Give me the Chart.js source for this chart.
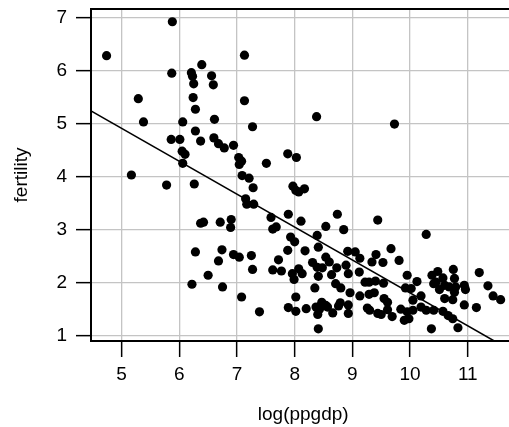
<!DOCTYPE html>
<html>
<head>
<meta charset="utf-8">
<script src="https://cdn.jsdelivr.net/npm/chart.js@4.4.1/dist/chart.umd.min.js"></script>
<style>
  html, body { margin: 0; background: #fff; overflow: hidden; }
  canvas { display: block; }
</style>
</head>
<body>
<canvas id="unChart" width="520" height="427"></canvas>
<script>
// log(ppgdp) and fertility
const logGdp = [
  4.74, 5.88, 5.87, 6.39, 6.21, 6.23, 6.56, 6.25, 6.59, 5.29, 6.24, 6.28, 5.38, 6.06, 6.61, 6.28,
  5.86, 6.01, 6.37, 6.60, 6.68, 6.78, 6.05, 6.10, 6.06, 5.17, 5.78, 6.26, 6.37, 6.42, 6.71, 7.13,
  7.13, 8.38, 7.27, 9.73, 6.94, 7.03, 7.08, 7.04, 7.51, 7.88, 8.03, 7.09, 7.21, 7.28, 7.97, 8.02,
  8.07, 8.17, 7.15, 7.17, 7.29, 6.90, 6.89, 7.59, 7.62, 7.68, 7.89, 8.11, 7.93, 8.00, 8.54, 8.39,
  8.74, 8.85, 9.44, 10.28, 6.28, 6.74, 6.68, 6.50, 6.22, 6.75, 8.41, 8.18, 7.88, 6.94, 7.04, 7.25,
  7.27, 7.72, 7.62, 7.77, 7.96, 8.07, 8.13, 7.99, 8.31, 8.39, 8.48, 8.54, 8.60, 8.41, 8.64, 8.73,
  8.89, 8.92, 8.71, 8.80, 8.35, 8.96, 7.08, 8.02, 7.39, 7.89, 8.02, 8.20, 8.37, 8.47, 8.54, 8.43,
  8.40, 8.57, 8.66, 8.76, 8.79, 8.93, 8.93, 8.41, 9.05, 9.13, 8.93, 9.12, 9.41, 9.34, 9.53, 9.67,
  9.81, 9.22, 9.29, 9.40, 9.54, 9.13, 9.29, 9.38, 9.55, 9.61, 9.26, 9.30, 9.44, 9.50, 9.61, 9.69,
  9.84, 9.90, 9.98, 10.05, 9.95, 9.92, 10.02, 10.12, 10.05, 10.19, 10.19, 10.28, 10.41, 10.37, 10.57, 10.66,
  10.74, 10.83, 10.38, 10.48, 10.45, 10.41, 10.57, 10.60, 10.51, 10.75, 10.77, 10.68, 10.79, 10.77, 10.60, 10.74,
  10.94, 10.96, 10.94, 11.15, 11.20, 11.35, 11.44, 11.57, 9.95
];
const fertility = [
  6.28, 6.92, 5.95, 6.11, 5.96, 5.89, 5.90, 5.75, 5.73, 5.47, 5.49, 5.27, 5.03, 5.03, 5.08, 4.86,
  4.70, 4.70, 4.67, 4.73, 4.62, 4.54, 4.48, 4.42, 4.25, 4.03, 3.84, 3.86, 3.12, 3.14, 3.14, 6.29,
  5.43, 5.13, 4.94, 4.99, 4.59, 4.36, 4.29, 4.23, 4.25, 4.43, 4.36, 4.02, 3.97, 3.79, 3.82, 3.74,
  3.71, 3.77, 3.58, 3.48, 3.48, 3.19, 3.04, 3.23, 3.01, 3.05, 3.29, 3.16, 2.86, 2.77, 3.06, 2.89,
  3.29, 3.00, 3.18, 2.91, 2.58, 2.62, 2.41, 2.14, 1.97, 1.92, 2.67, 2.60, 2.61, 2.53, 2.48, 2.51,
  2.25, 2.43, 2.24, 2.22, 2.17, 2.26, 2.17, 2.06, 2.38, 2.29, 2.28, 2.48, 2.39, 2.12, 2.15, 2.28,
  2.33, 2.59, 1.98, 1.90, 1.90, 1.81, 1.73, 1.73, 1.45, 1.53, 1.46, 1.51, 1.54, 1.63, 1.57, 1.50,
  1.40, 1.54, 1.43, 1.56, 1.62, 1.58, 1.42, 1.13, 2.58, 2.46, 2.17, 2.20, 2.53, 2.39, 2.38, 2.64,
  2.42, 2.01, 2.01, 2.03, 1.99, 1.75, 1.78, 1.81, 1.70, 1.63, 1.52, 1.48, 1.42, 1.40, 1.49, 1.36,
  1.50, 1.29, 1.32, 1.48, 2.14, 1.90, 1.89, 2.02, 1.67, 1.75, 1.54, 1.48, 1.48, 1.13, 1.46, 1.38,
  1.32, 1.15, 2.14, 2.21, 2.01, 1.98, 2.09, 1.95, 1.87, 2.25, 2.08, 1.92, 1.92, 1.82, 1.70, 1.68,
  1.95, 1.87, 1.58, 1.53, 2.19, 1.94, 1.75, 1.68, 1.45
];

// ends of the fitted line
const fitX = [4.47, 11.46];
const fitY = [5.24, 0.90];

const xTicks = [5, 6, 7, 8, 9, 10, 11];
const yTicks = [1, 2, 3, 4, 5, 6, 7];

const font = { family: 'Liberation Sans, Arial, Helvetica, sans-serif', size: 19 };

// draws the top and right edges of the box
const boxPlugin = {
  id: 'box',
  afterDraw(chart) {
    const a = chart.chartArea;
    const c = chart.ctx;
    c.save();
    c.strokeStyle = '#000';
    c.lineWidth = 2;
    c.beginPath();
    c.moveTo(a.left, a.top);
    c.lineTo(a.right, a.top);
    c.lineTo(a.right, a.bottom);
    c.stroke();
    c.restore();
  }
};

const ctx = document.getElementById('unChart').getContext('2d');
const unChart = new Chart(ctx, {
  type: 'scatter',
  data: {
    datasets: [
      {
        label: 'countries',
        data: logGdp.map((x, i) => ({ x: x, y: fertility[i] })),
        backgroundColor: '#000',
        borderWidth: 0,
        pointRadius: 4.6,
        pointHoverRadius: 4.6
      },
      {
        type: 'line',
        label: 'fit',
        data: fitX.map((x, i) => ({ x: x, y: fitY[i] })),
        borderColor: '#000',
        borderWidth: 1.5,
        pointRadius: 0,
        fill: false
      }
    ]
  },
  options: {
    responsive: false,
    animation: false,
    layout: { padding: { top: 9, right: 1, left: 0, bottom: 0 } },
    plugins: { legend: { display: false }, tooltip: { enabled: false } },
    scales: {
      x: {
        type: 'linear',
        min: 4.47,
        max: 11.826,
        afterBuildTicks: s => { s.ticks = xTicks.map(v => ({ value: v })); },
        afterFit: s => { s.height = 86; s.paddingLeft = 0; s.paddingRight = 0; },
        grid: { color: '#c4c4c4', lineWidth: 1.3, tickColor: '#000', tickWidth: 1.5, tickLength: 16 },
        border: { color: '#000', width: 2 },
        ticks: { color: '#000', font: font, padding: 6, maxRotation: 0 },
        title: { display: true, text: 'log(ppgdp)', color: '#000', font: font, padding: { top: 0, bottom: 1 } }
      },
      y: {
        type: 'linear',
        min: 0.9,
        max: 7.16,
        afterBuildTicks: s => { s.ticks = yTicks.map(v => ({ value: v })); },
        afterFit: s => { s.width = 91; s.paddingTop = 0; s.paddingBottom = 0; },
        grid: { color: '#c4c4c4', lineWidth: 1.3, tickColor: '#000', tickWidth: 1.5, tickLength: 15 },
        border: { color: '#000', width: 2 },
        ticks: { color: '#000', font: font, padding: 9 },
        title: { display: true, text: 'fertility', color: '#000', font: font, padding: { top: 10, bottom: 0 } }
      }
    }
  },
  plugins: [boxPlugin]
});
</script>
</body>
</html>
